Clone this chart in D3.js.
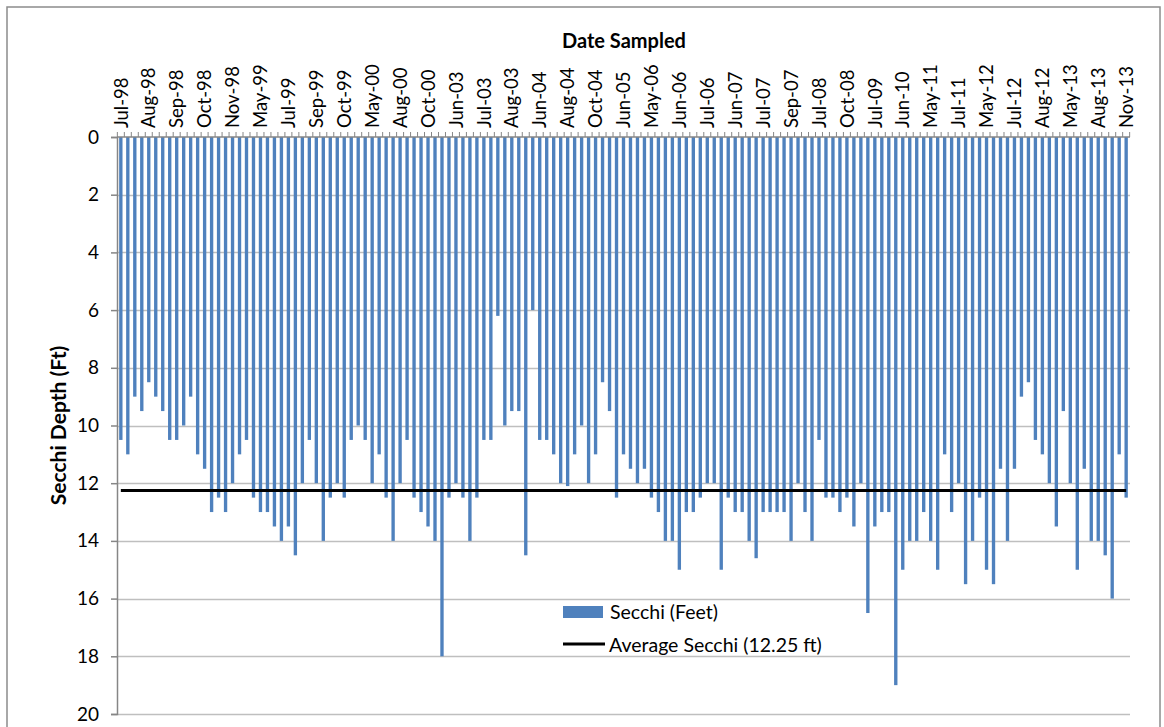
<!DOCTYPE html>
<html lang="en">
<head>
<meta charset="UTF-8">
<title>Secchi Depth</title>
<script src="https://cdn.jsdelivr.net/npm/d3@7"></script>
<style>
  body { margin: 0; background: #fff; }
  text { font-family: Lato, "Open Sans", sans-serif; fill: #000; }
</style>
</head>
<body>
<div id="root"></div>
<script>
// secchi depth per sampling event (ft), in sample order
var secchi = [
  10.5, 11, 9, 9.5, 8.5, 9, 9.5, 10.5, 10.5, 10, 9, 11, 11.5, 13, 12.5, 13,
  12, 11, 10.5, 12.5, 13, 13, 13.5, 14, 13.5, 14.5, 12, 10.5, 12, 14,
  12.5, 12, 12.5, 10.5, 10, 10.5, 12, 11, 12.5, 14, 12, 10.5, 12.5, 13,
  13.5, 14, 18, 12.5, 12, 12.5, 14, 12.5, 10.5, 10.5, 6.2, 10, 9.5, 9.5,
  14.5, 6, 10.5, 10.5, 11, 12, 12.1, 11, 10, 12, 11, 8.5, 9.5, 12.5,
  11, 11.5, 12, 11.5, 12.5, 13, 14, 14, 15, 13, 13, 12.5, 12, 12,
  15, 12.5, 13, 13, 14, 14.6, 13, 13, 13, 13, 14, 12, 13, 14,
  10.5, 12.5, 12.5, 13, 12.5, 13.5, 12, 16.5, 13.5, 13, 13, 19, 15, 14,
  14, 13, 14, 15, 11, 13, 12, 15.5, 14, 12.5, 15, 15.5, 11.5, 14,
  11.5, 9, 8.5, 10.5, 11, 12, 13.5, 9.5, 12, 15, 11.5, 14, 14, 14.5,
  16, 11, 12.5
]
var avgSecchi = 12.25

// every 4th sample carries a label on the axis
var tickLabels = [
  'Jul-98', 'Aug-98', 'Sep-98', 'Oct-98', 'Nov-98', 'May-99', 'Jul-99', 'Sep-99',
  'Oct-99', 'May-00', 'Aug-00', 'Oct-00', 'Jun-03', 'Jul-03', 'Aug-03', 'Jun-04',
  'Aug-04', 'Oct-04', 'Jun-05', 'May-06', 'Jun-06', 'Jul-06', 'Jun-07', 'Jul-07',
  'Sep-07', 'Jul-08', 'Oct-08', 'Jul-09', 'Jun-10', 'May-11', 'Jul-11', 'May-12',
  'Jul-12', 'Aug-12', 'May-13', 'Aug-13', 'Nov-13'
]
var labelEvery = 4
var yTicks = [0, 2, 4, 6, 8, 10, 12, 14, 16, 18, 20]

var width = 1164
var height = 727
// plot box (window.top is taken, so no bare "top")
var plotL = 117, plotR = 1130, plotT = 137, plotB = 714
var blue = '#4f81bd'

var svg = d3.select('#root')
            .append('svg')
            .attr('width', width)
            .attr('height', height)

// outer chart frame
svg.append('rect')
   .attr('x', 7).attr('y', 7)
   .attr('width', 1153).attr('height', 740)
   .attr('fill', 'none')
   .attr('stroke', '#8c8c8c')
   .attr('stroke-width', 1.5)

var x = d3.scaleBand()
          .domain(d3.range(secchi.length))
          .range([plotL, plotR])
          .paddingInner(0.52)
          .paddingOuter(0.31)

var y = d3.scaleLinear()
          .domain([0, 20])
          .range([plotT, plotB])

// horizontal gridlines
svg.append('g')
   .selectAll('line')
   .data(yTicks.slice(1))
   .enter()
   .append('line')
      .attr('x1', plotL).attr('x2', plotR)
      .attr('y1', function(d){ return Math.round(y(d)) + 0.5 })
      .attr('y2', function(d){ return Math.round(y(d)) + 0.5 })
      .attr('stroke', '#bfbfbf')
      .attr('stroke-width', 1.5)

// y axis (depth increases downward)
var yAxis = svg.append('g')
   .attr('transform', 'translate(' + plotL + ',0)')
   .call(d3.axisLeft(y).tickValues(yTicks).tickSize(6).tickPadding(12))
yAxis.select('.domain').attr('stroke', '#868686').attr('stroke-width', 1.5)
yAxis.selectAll('.tick line').attr('stroke', '#868686').attr('stroke-width', 1.5)
yAxis.selectAll('.tick text')
     .style('font-size', '19px')
     .style('font-family', 'Lato, sans-serif')
     .attr('fill', '#000')

// bars hang down from 0
svg.append('g')
   .selectAll('rect')
   .data(secchi)
   .enter()
   .append('rect')
      .attr('x', function(d, i){ return x(i) })
      .attr('y', y(0))
      .attr('width', x.bandwidth())
      .attr('height', function(d){ return y(d) - y(0) })
      .attr('fill', blue)

// top category axis: line + ticks between categories
var step = x.step()
svg.append('line')
   .attr('x1', plotL).attr('x2', plotR)
   .attr('y1', plotT).attr('y2', plotT)
   .attr('stroke', '#868686')
   .attr('stroke-width', 1.5)
svg.append('g')
   .selectAll('line')
   .data(d3.range(secchi.length + 1))
   .enter()
   .append('line')
      .attr('x1', function(i){ return x(0) - step * x.paddingInner() / 2 + i * step })
      .attr('x2', function(i){ return x(0) - step * x.paddingInner() / 2 + i * step })
      .attr('y1', plotT).attr('y2', plotT - 5)
      .attr('stroke', '#868686')
      .attr('stroke-width', 1)

svg.append('g')
   .selectAll('text')
   .data(tickLabels)
   .enter()
   .append('text')
      .attr('transform', function(d, i){
          var cx = x(i * labelEvery) + x.bandwidth() / 2
          return 'translate(' + cx + ',' + (plotT - 9) + ') rotate(-90)'
      })
      .attr('dy', '0.36em')
      .style('font-size', '18.5px')
      .text(function(d){ return d })

// average line
var avgLine = d3.line()
                .x(function(d){ return x(d) + x.bandwidth() / 2 })
                .y(y(avgSecchi))
svg.append('path')
   .datum([0, secchi.length - 1])
   .attr('d', avgLine)
   .attr('stroke', '#000')
   .attr('stroke-width', 3)
   .attr('fill', 'none')

// titles
svg.append('text')
   .attr('x', 624).attr('y', 48)
   .attr('text-anchor', 'middle')
   .style('font-size', '20px')
   .style('font-weight', 'bold')
   .text('Date Sampled')

svg.append('text')
   .attr('transform', 'translate(59,' + (plotT + plotB) / 2 + ') rotate(-90)')
   .attr('text-anchor', 'middle')
   .attr('dy', '0.35em')
   .style('font-size', '21px')
   .style('font-weight', 'bold')
   .text('Secchi Depth (Ft)')

// legend
var legend = svg.append('g').attr('transform', 'translate(563,0)')
legend.append('rect')
      .attr('x', 0).attr('y', 606)
      .attr('width', 40).attr('height', 12)
      .attr('fill', blue)
legend.append('text')
      .attr('x', 47).attr('y', 612)
      .attr('dy', '0.35em')
      .style('font-size', '19.5px')
      .text('Secchi (Feet)')
legend.append('line')
      .attr('x1', 0).attr('x2', 42)
      .attr('y1', 644).attr('y2', 644)
      .attr('stroke', '#000')
      .attr('stroke-width', 3)
legend.append('text')
      .attr('x', 46).attr('y', 645)
      .attr('dy', '0.35em')
      .style('font-size', '19.5px')
      .text('Average Secchi (12.25 ft)')
</script>
</body>
</html>
